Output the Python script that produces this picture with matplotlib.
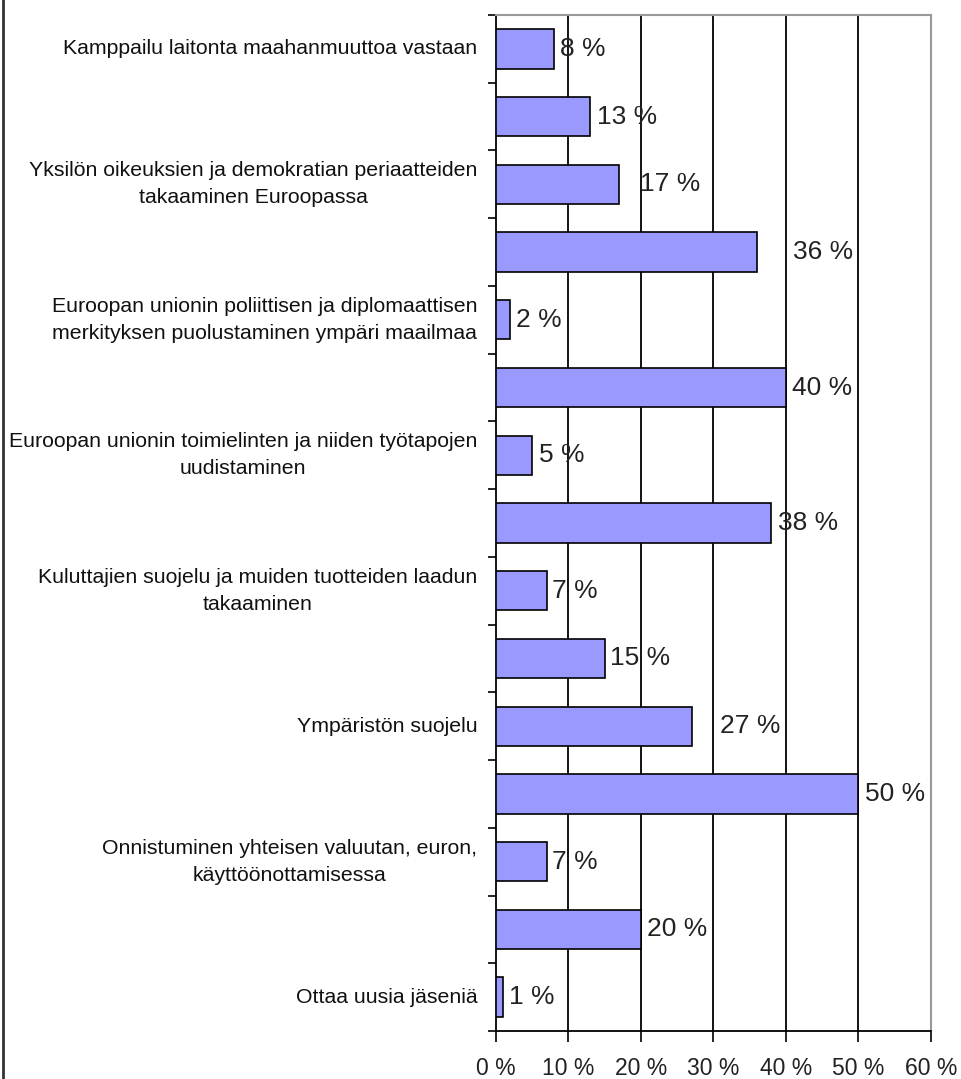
import matplotlib
matplotlib.use("Agg")
import matplotlib.pyplot as plt
from matplotlib.lines import Line2D

categories = [
    "Kamppailu laitonta maahanmuuttoa vastaan",
    "",
    "Yksilön oikeuksien ja demokratian periaatteiden\ntakaaminen Euroopassa",
    "",
    "Euroopan unionin poliittisen ja diplomaattisen\nmerkityksen puolustaminen ympäri maailmaa",
    "",
    "Euroopan unionin toimielinten ja niiden työtapojen\nuudistaminen",
    "",
    "Kuluttajien suojelu ja muiden tuotteiden laadun\ntakaaminen",
    "",
    "Ympäristön suojelu",
    "",
    "Onnistuminen yhteisen valuutan, euron,\nkäyttöönottamisessa",
    "",
    "Ottaa uusia jäseniä",
]
values = [8, 13, 17, 36, 2, 40, 5, 38, 7, 15, 27, 50, 7, 20, 1]
x_ticks = [0, 10, 20, 30, 40, 50, 60]
x_tick_labels = ["0 %", "10 %", "20 %", "30 %", "40 %", "50 %", "60 %"]
# label offsets (points) to mimic data-label placement
label_offsets = [4, 5, 15, 26, 4, 4, 5, 5, 4, 4, 20, 5, 4, 4, 4]

plt.rcParams['font.family'] = ['Liberation Sans', 'DejaVu Sans']

fig = plt.figure(figsize=(9.62, 10.79), dpi=100)
W, H = 962, 1079
ax = fig.add_axes([496 / W, 1 - 1031 / H, (931 - 496) / W, (1031 - 15) / H])

n = len(values)
ypos = list(range(n))
ax.barh(ypos, values, height=0.58, color="#9999FF", edgecolor="black",
        linewidth=1.2, zorder=3)
ax.set_ylim(n - 0.5, -0.5)
ax.set_xlim(0, 60)

# gridlines
for xv in x_ticks[1:-1]:
    ax.axvline(xv, color="black", linewidth=1.3, zorder=1)

# category ticks at boundaries
ax.set_yticks([i - 0.5 for i in range(n + 1)])
ax.set_yticklabels([])
ax.tick_params(axis='y', direction='out', length=6, width=1.2, color='black')
for i, c in enumerate(categories):
    if c:
        ax.text(-2.6, i, c, ha='right', va='center', multialignment='center',
                fontsize=15.3, color='#111111', linespacing=1.55)

ax.set_xticks(x_ticks)
ax.set_xticklabels(x_tick_labels, fontsize=16.5, color='#222222')
ax.tick_params(axis='x', direction='out', length=8, width=1.2, pad=11)

for i, v in enumerate(values):
    ax.annotate(f"{v} %", (v, i), xytext=(label_offsets[i], 0),
                textcoords='offset points', ha='left', va='center',
                fontsize=19, color='#222222', zorder=4)

for s in ['top', 'right']:
    ax.spines[s].set_color('#999999')
    ax.spines[s].set_linewidth(1.5)
for s in ['left', 'bottom']:
    ax.spines[s].set_color('black')
    ax.spines[s].set_linewidth(1.3)

# figure left border
fig.add_artist(Line2D([3 / W, 3 / W], [0, 1], transform=fig.transFigure,
                      color='#333333', linewidth=2))

fig.savefig("out.png", dpi=100)
